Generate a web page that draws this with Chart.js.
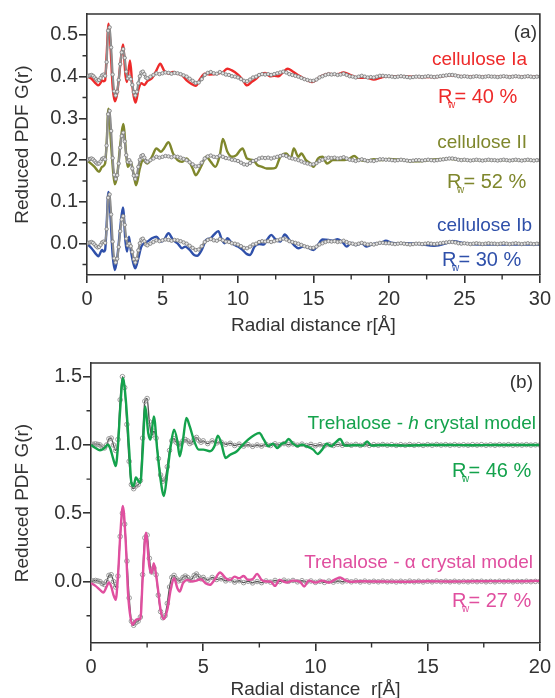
<!DOCTYPE html>
<html><head><meta charset="utf-8">
<script src="https://cdn.jsdelivr.net/npm/chart.js@4.4.1/dist/chart.umd.min.js"></script>
<style>
html,body{margin:0;padding:0;background:#fff;overflow:hidden;}
#wrap{position:relative;width:555px;height:698px;overflow:hidden;background:#fff;}
#ca{position:absolute;left:0;top:0;}
#cb{position:absolute;left:0;top:340px;}
</style></head><body>
<div id="wrap"><canvas id="ca" width="555" height="345"></canvas><canvas id="cb" width="555" height="370"></canvas></div>
<script>
// ---------- Panel (a): cellulose ----------
const aXTicks = [0,5,10,15,20,25,30];
const aXMinor = [2.5,7.5,12.5,17.5,22.5,27.5];
const aYTicks = [0,0.1,0.2,0.3,0.4,0.5];
const aYMinor = [-0.05,0.05,0.15,0.25,0.35,0.45];
const aOffsets = [0.4,0.2,0.0];   // vertical offsets of the experimental curve

const rExpA = [0,0.1,0.2,0.3,0.4,0.5,0.6,0.7,0.8,0.9,1,1.1,1.2,1.3,1.4,1.5,1.6,1.7,1.8,1.9,2,2.1,2.2,2.3,2.4,2.5,2.6,2.7,2.8,2.9,3,3.1,3.2,3.3,3.4,3.5,3.6,3.7,3.8,3.9,4,
4.2,4.4,4.6,4.8,5,5.2,5.4,5.6,5.8,6,6.2,6.4,6.6,6.8,7,7.2,7.4,7.6,7.8,8,8.2,8.4,8.6,8.8,9,9.2,9.4,9.6,9.8,10,
10.2,10.4,10.6,10.8,11,11.2,11.4,11.6,11.8,12,12.2,12.4,12.6,12.8,13,13.2,13.4,13.6,13.8,14,14.2,14.4,14.6,14.8,15,
15.2,15.4,15.6,15.8,16,16.2,16.4,16.6,16.8,17,17.2,17.4,17.6,17.8,18,18.2,18.4,18.6,18.8,19,19.2,19.4,19.6,19.8,20,
20.2,20.4,20.6,20.8,21,21.2,21.4,21.6,21.8,22,22.2,22.4,22.6,22.8,23,23.2,23.4,23.6,23.8,24,24.2,24.4,24.6,24.8,25,
25.2,25.4,25.6,25.8,26,26.2,26.4,26.6,26.8,27,27.2,27.4,27.6,27.8,28,28.2,28.4,28.6,28.8,29,29.2,29.4,29.6,29.8,30];
const gExpA = [0.000,0.002,0.003,0.004,0.002,-0.002,-0.006,-0.009,-0.008,-0.003,
0.003,0.005,0.002,0.035,0.110,0.118,0.070,0.005,-0.035,-0.045,
-0.036,-0.008,0.030,0.058,0.066,0.045,0.012,-0.004,0.000,-0.006,
-0.020,-0.037,-0.045,-0.036,-0.016,0.001,0.010,0.012,0.006,-0.002,
-0.004,
0.000,0.004,0.008,0.006,0.008,0.010,0.009,0.007,0.009,0.008,
0.006,0.003,0.000,-0.005,-0.010,-0.015,-0.014,-0.006,0.004,0.009,
0.011,0.008,0.007,0.011,0.008,0.005,0.004,0.001,0.000,-0.002,
-0.006,-0.010,-0.011,-0.007,-0.002,0.000,0.004,0.006,0.005,0.006,
0.004,0.006,0.008,0.010,0.012,0.010,0.006,0.004,0.002,0.000,
-0.003,-0.006,-0.008,-0.010,-0.010,-0.007,-0.002,0.001,0.004,0.006,
0.005,0.006,0.004,0.005,0.007,0.004,0.001,0.000,-0.002,0.000,
0.002,0.000,-0.002,-0.001,-0.002,0.000,0.002,0.002,0.001,0.001,
0.000,-0.001,0.000,0.001,0.000,-0.001,-0.002,-0.001,0.000,0.000,
-0.001,0.000,0.001,0.000,-0.001,0.000,0.001,0.002,0.003,0.004,
0.004,0.003,0.001,0.000,0.001,0.000,-0.001,0.000,0.001,0.000,
-0.001,0.000,0.001,0.000,0.000,-0.001,0.000,0.001,0.000,-0.001,
0.000,0.001,0.000,-0.001,0.000,0.001,0.000,-0.001,0.000,0.000];

const rIa = [0,0.3,0.6,0.75,0.9,1.0,1.1,1.2,1.3,1.43,1.55,1.7,1.85,2.0,2.2,2.38,2.55,2.65,2.85,3.0,3.1,3.22,3.4,3.6,3.8,4.0,4.3,4.6,4.85,5.1,5.4,5.7,6.0,6.3,6.6,6.9,7.2,7.5,7.8,8.1,8.5,9.0,9.3,9.6,10.0,10.3,10.6,10.9,11.2,11.5,11.8,12.1,12.4,12.7,13.0,13.3,13.6,14.0,14.5,14.9,15.2,15.5,16.0,16.5,17.0,17.5,18.0,18.5,19.0,19.5,20,21,22,23,24,25,26,27,28,29,30];
const gIa = [0.400,0.395,0.383,0.379,0.385,0.391,0.389,0.391,0.451,0.527,0.476,0.376,0.341,0.360,0.427,0.477,0.403,0.387,0.439,0.380,0.352,0.338,0.368,0.384,0.380,0.389,0.396,0.415,0.431,0.415,0.407,0.411,0.407,0.403,0.391,0.383,0.378,0.395,0.407,0.405,0.406,0.411,0.419,0.415,0.405,0.393,0.379,0.387,0.395,0.405,0.409,0.401,0.402,0.401,0.411,0.419,0.413,0.403,0.393,0.387,0.393,0.401,0.407,0.405,0.410,0.403,0.397,0.398,0.393,0.398,0.401,0.401,0.399,0.399,0.403,0.401,0.400,0.400,0.400,0.400,0.400];

const rII = [0,0.5,0.8,1.0,1.2,1.3,1.42,1.6,1.75,1.85,2.0,2.2,2.4,2.6,2.7,2.8,2.9,3.1,3.25,3.5,3.7,4.0,4.3,4.6,4.9,5.1,5.4,5.7,6.0,6.3,6.6,7.0,7.2,7.6,7.9,8.2,8.5,8.8,9.0,9.3,9.6,9.9,10.15,10.3,10.6,11.0,11.3,11.6,11.9,12.2,12.5,12.8,13.2,13.5,13.7,14.0,14.2,14.5,14.8,15.0,15.3,15.6,15.9,16.3,16.7,17.3,17.7,18.0,18.5,19.0,19.5,20.0,20.5,21.0,21.5,22.0,23,24,25,26,27,28,29,30];
const gII = [0.200,0.184,0.172,0.184,0.192,0.240,0.323,0.236,0.165,0.142,0.164,0.236,0.287,0.212,0.184,0.188,0.196,0.164,0.140,0.180,0.200,0.192,0.208,0.228,0.220,0.228,0.243,0.216,0.200,0.196,0.204,0.180,0.164,0.188,0.208,0.196,0.184,0.212,0.251,0.220,0.208,0.212,0.224,0.228,0.204,0.200,0.188,0.184,0.180,0.180,0.182,0.208,0.216,0.204,0.228,0.208,0.216,0.200,0.192,0.184,0.204,0.208,0.192,0.200,0.200,0.202,0.210,0.202,0.198,0.202,0.200,0.203,0.202,0.200,0.197,0.197,0.202,0.203,0.200,0.200,0.200,0.200,0.200,0.200];

const rIb = [0,0.3,0.6,0.75,1.0,1.1,1.2,1.3,1.42,1.55,1.7,1.85,2.0,2.2,2.38,2.55,2.65,2.78,2.9,3.1,3.2,3.4,3.6,3.8,4.0,4.3,4.6,4.9,5.1,5.4,5.7,6.0,6.3,6.5,6.8,7.1,7.3,7.6,7.9,8.2,8.4,8.7,8.9,9.1,9.3,9.6,10.0,10.3,10.6,10.8,11.1,11.4,11.7,12.0,12.2,12.5,12.8,13.1,13.4,13.7,14.0,14.3,14.6,15.0,15.3,15.6,16.0,16.3,16.6,16.9,17.2,17.5,17.8,18.2,18.5,18.8,19.2,19.5,19.8,20.2,21,22,23,24,24.3,25,26,27,28,29,30];
const gIb = [0.000,-0.011,-0.025,-0.030,-0.015,-0.019,-0.015,0.045,0.124,0.069,-0.027,-0.063,-0.035,0.037,0.087,0.005,-0.019,0.017,-0.015,-0.051,-0.059,-0.035,-0.007,0.001,0.005,0.013,0.017,0.005,0.009,0.025,0.009,0.001,-0.011,-0.007,-0.015,-0.027,-0.029,-0.015,0.009,0.013,0.021,0.030,0.013,0.001,0.013,0.001,-0.007,-0.015,-0.025,-0.027,-0.007,-0.001,-0.002,0.013,0.021,0.010,0.005,0.022,0.009,-0.003,-0.011,-0.007,-0.009,-0.015,-0.003,0.010,0.009,0.007,0.011,0.005,-0.007,0.002,-0.003,0.001,-0.007,-0.003,0.001,0.002,0.007,0.002,0.001,-0.001,-0.005,0.003,0.006,0.001,-0.002,-0.002,-0.002,-0.002,-0.002];

// ---------- Panel (b): trehalose ----------
const bXTicks = [0,5,10,15,20];
const bXMinor = [2.5,7.5,12.5,17.5];
const bYTicks = [0,0.5,1.0,1.5];
const bYMinor = [-0.25,0.25,0.75,1.25];
const bOffsets = [1.0,0.0];

const rExpB = [0,0.1,0.2,0.3,0.4,0.5,0.6,0.7,0.8,0.9,1,1.1,1.2,1.3,1.4,1.5,1.6,1.7,1.8,1.9,2,2.1,2.2,2.3,2.4,2.5,2.6,2.7,2.8,2.9,3,3.1,3.2,3.3,3.4,3.5,3.6,3.7,3.8,3.9,4,4.1,4.2,4.3,4.4,4.5,4.6,4.7,4.8,4.9,5,
5.2,5.4,5.6,5.8,6,6.2,6.4,6.6,6.8,7,7.2,7.4,7.6,7.8,8,8.2,8.4,8.6,8.8,9,9.2,9.4,9.6,9.8,10,10.2,10.4,10.6,10.8,11,
11.2,11.4,11.6,11.8,12,12.2,12.4,12.6,12.8,13,13.2,13.4,13.6,13.8,14,14.2,14.4,14.6,14.8,15,15.2,15.4,15.6,15.8,16,
16.2,16.4,16.6,16.8,17,17.2,17.4,17.6,17.8,18,18.2,18.4,18.6,18.8,19,19.2,19.4,19.6,19.8,20];
const gExpB = [0.000,0.005,0.008,0.004,0.000,-0.015,-0.022,0.000,0.045,0.050,
0.000,-0.040,0.040,0.330,0.500,0.420,0.150,-0.120,-0.290,-0.320,
-0.300,-0.290,-0.260,0.050,0.320,0.340,0.170,0.070,0.100,0.050,
-0.100,-0.220,-0.265,-0.250,-0.160,-0.040,0.030,0.045,0.020,0.005,
0.010,0.030,0.040,0.030,0.010,0.020,0.045,0.055,0.035,0.020,
0.030,
0.010,0.030,0.015,0.020,0.005,0.012,-0.004,0.006,-0.008,0.002,
-0.010,0.000,-0.008,0.004,-0.004,0.008,0.000,0.010,0.002,0.008,
-0.002,0.006,-0.004,0.004,-0.006,0.002,-0.006,0.003,-0.004,0.004,
-0.002,0.005,-0.002,0.004,-0.003,0.003,-0.003,0.002,-0.002,0.003,
-0.002,0.002,-0.003,0.002,-0.002,0.003,-0.002,0.002,-0.003,0.002,
-0.002,0.003,-0.001,0.002,-0.002,0.002,-0.002,0.001,-0.002,0.002,
-0.001,0.002,-0.002,0.001,-0.002,0.002,-0.001,0.002,-0.002,0.001,
-0.001,0.002,-0.001,0.001,0.000];

const rH = [0,0.2,0.4,0.6,0.75,0.85,1.0,1.1,1.2,1.3,1.42,1.55,1.7,1.8,1.9,2.0,2.1,2.2,2.3,2.42,2.55,2.65,2.8,2.95,3.1,3.25,3.4,3.55,3.7,3.85,3.95,4.1,4.25,4.4,4.6,4.8,5.0,5.3,5.5,5.65,5.8,6.0,6.2,6.5,6.7,7.0,7.3,7.5,7.7,7.9,8.1,8.3,8.5,8.65,8.8,9.0,9.2,9.4,9.6,9.9,10.1,10.3,10.5,10.7,10.9,11.1,11.3,11.5,11.8,12.1,12.3,12.5,13,14,15,16,17,18,19,20];
const gH = [1.000,0.978,0.961,0.978,1.002,0.978,0.893,0.845,0.990,1.258,1.488,1.331,0.966,0.723,0.699,0.762,0.738,0.723,0.942,1.282,1.088,1.039,1.209,0.966,0.747,0.626,0.796,0.990,1.112,1.027,0.917,1.039,1.197,1.136,1.027,0.966,0.966,0.954,0.990,1.068,1.015,0.905,0.929,0.954,0.990,1.039,1.075,1.087,1.039,0.990,1.010,0.978,1.010,1.015,1.044,1.010,0.990,1.002,0.990,0.966,0.934,0.966,1.010,0.990,1.019,1.044,0.995,0.995,1.000,0.995,1.025,0.995,1.000,0.995,1.000,1.000,0.998,1.000,1.000,1.000];

const rAl = [0,0.2,0.4,0.55,0.7,0.8,0.9,1.0,1.1,1.2,1.3,1.42,1.55,1.65,1.85,2.0,2.1,2.2,2.3,2.45,2.6,2.7,2.8,2.95,3.1,3.25,3.4,3.55,3.7,3.85,3.95,4.1,4.3,4.5,4.7,4.9,5.1,5.3,5.5,5.75,6.0,6.2,6.4,6.6,6.8,7.0,7.2,7.4,7.6,7.8,8.0,8.2,8.4,8.7,9.0,9.3,9.5,9.7,10.0,10.3,10.6,10.9,11.1,11.3,11.6,12,13,14,15,16,17,18,19,20];
const gAl = [-0.012,-0.032,-0.061,-0.080,-0.036,-0.007,-0.036,-0.097,-0.134,0.036,0.328,0.554,0.280,-0.085,-0.316,-0.280,-0.275,-0.275,0.012,0.357,0.109,0.061,0.134,-0.012,-0.207,-0.275,-0.207,-0.061,0.024,-0.049,-0.073,-0.012,0.012,0.000,0.007,0.017,-0.012,-0.024,0.012,0.066,0.024,0.012,0.036,0.024,0.041,0.012,0.017,0.056,0.012,0.000,0.000,-0.032,0.012,-0.007,0.007,0.000,-0.036,0.007,-0.007,0.007,-0.007,0.017,0.030,0.012,-0.002,0.002,0.000,-0.002,0.002,0.000,0.002,0.003,0.002,0.005];

// ---------- styling ----------
const FONT = '"Liberation Sans", Arial, Helvetica, sans-serif';
const AX = '#333333';
const TXT = '#333333';
const C_RED = '#ee2a2a', C_OLV = '#7f872c', C_BLU = '#2f50aa', C_GRN = '#14a24c', C_PNK = '#e04f9f';

const pts = (r, g, off) => r.map((x, i) => ({x: x, y: g[i] + (off || 0)}));

function modelSet(r, g, color, order) {
  return {data: pts(r, g), borderColor: color, borderWidth: 2.4, pointRadius: 0,
    cubicInterpolationMode: 'monotone', fill: false, order: order};
}
function expSetA(off) {
  return {data: pts(rExpA, gExpA, off), borderColor: '#8f8f8f', borderWidth: 2.2,
    pointRadius: 1.7, pointBackgroundColor: '#e4e4e4', pointBorderColor: '#808080', pointBorderWidth: 0.9,
    cubicInterpolationMode: 'monotone', fill: false, order: 0};
}
function expSetB(off) {
  return {data: pts(rExpB, gExpB, off), borderColor: '#555555', borderWidth: 1.4,
    pointRadius: 2.3, pointBackgroundColor: 'rgba(255,255,255,0)', pointBorderColor: '#9a9a9a', pointBorderWidth: 1,
    cubicInterpolationMode: 'monotone', fill: false, order: 1};
}

function frameMinor(minX, minY) {
  return {id: 'frameMinor', afterDraw(chart) {
    const {ctx, chartArea: ca, scales: {x, y}} = chart;
    ctx.save();
    ctx.strokeStyle = AX; ctx.lineWidth = 1.6;
    ctx.beginPath();
    ctx.moveTo(ca.left, ca.top); ctx.lineTo(ca.right, ca.top); ctx.lineTo(ca.right, ca.bottom);
    ctx.stroke();
    ctx.lineWidth = 1.4;
    ctx.beginPath();
    minX.forEach(v => { const p = x.getPixelForValue(v); ctx.moveTo(p, ca.bottom); ctx.lineTo(p, ca.bottom + 4.5); });
    minY.forEach(v => { const p = y.getPixelForValue(v); ctx.moveTo(ca.left, p); ctx.lineTo(ca.left - 4.5, p); });
    ctx.stroke();
    ctx.restore();
  }};
}

function drawPieces(ctx, pieces, xRight, y, color) {
  ctx.textBaseline = 'middle'; ctx.textAlign = 'left'; ctx.fillStyle = color;
  let w = 0;
  pieces.forEach(p => { ctx.font = p.f; w += ctx.measureText(p.t).width; });
  let x = xRight - w;
  pieces.forEach(p => { ctx.font = p.f; ctx.fillText(p.t, x, y); x += ctx.measureText(p.t).width; });
}
function drawRw(ctx, x0, y, val, color) {
  ctx.textBaseline = 'middle'; ctx.textAlign = 'left'; ctx.fillStyle = color;
  ctx.font = '20px ' + FONT; ctx.fillText('R', x0, y);
  const wR = ctx.measureText('R').width;
  ctx.font = '10px ' + FONT; ctx.fillText('w', x0 + wR - 4.5, y + 8);
  ctx.font = '20px ' + FONT; ctx.fillText('= ' + val + ' %', x0 + wR + 2, y);
}

const N = '19px ' + FONT, I = 'italic 19px ' + FONT;
const annotA = {id: 'annotA', afterDraw(chart) {
  const ctx = chart.ctx; ctx.save();
  drawPieces(ctx, [{t: '(a)', f: N}], 537, 33, TXT);
  drawPieces(ctx, [{t: 'cellulose Ia', f: N}], 527, 60, C_RED);
  drawRw(ctx, 438, 97, '40', C_RED);
  drawPieces(ctx, [{t: 'cellulose II', f: N}], 527, 143, C_OLV);
  drawRw(ctx, 447, 182, '52', C_OLV);
  drawPieces(ctx, [{t: 'cellulose Ib', f: N}], 532, 226, C_BLU);
  drawRw(ctx, 442, 260, '30', C_BLU);
  ctx.restore();
}};
const annotB = {id: 'annotB', afterDraw(chart) {
  const ctx = chart.ctx; ctx.save();
  drawPieces(ctx, [{t: '(b)', f: N}], 533, 43, TXT);
  drawPieces(ctx, [{t: 'Trehalose - ', f: N}, {t: 'h', f: I}, {t: ' crystal model', f: N}], 536, 84, C_GRN);
  drawRw(ctx, 452, 131, '46', C_GRN);
  drawPieces(ctx, [{t: 'Trehalose - ', f: N}, {t: '\u03B1', f: N}, {t: ' crystal model', f: N}], 533, 223, C_PNK);
  drawRw(ctx, 452, 261, '27', C_PNK);
  ctx.restore();
}};

function axes(o) {
  return {
    x: {type: 'linear', min: o.xMin, max: o.xMax,
      afterBuildTicks: s => { s.ticks = o.xTicks.map(v => ({value: v})); },
      afterFit: s => { s.height = o.xH; },
      ticks: {maxRotation: 0, autoSkip: false, padding: 4, color: TXT, font: {family: FONT, size: 20},
        callback: v => String(v)},
      grid: {display: true, drawOnChartArea: false, drawTicks: true, tickLength: 8, color: AX, lineWidth: 1.6},
      border: {display: true, color: AX, width: 1.6},
      title: {display: true, text: o.xTitle, color: TXT, font: {family: FONT, size: 19}, padding: {top: 0, bottom: o.xTitlePad}}},
    y: {type: 'linear', min: o.yMin, max: o.yMax,
      afterBuildTicks: s => { s.ticks = o.yTicks.map(v => ({value: v})); },
      afterFit: s => { s.width = o.yW; },
      ticks: {padding: 1, color: TXT, font: {family: FONT, size: 20}, callback: v => Number(v).toFixed(1)},
      grid: {display: true, drawOnChartArea: false, drawTicks: true, tickLength: 8, color: AX, lineWidth: 1.6},
      border: {display: true, color: AX, width: 1.6},
      title: {display: true, text: 'Reduced PDF G(r)', color: TXT, font: {family: FONT, size: 19}, padding: {top: 11.5, bottom: 0}}}
  };
}

const common = {responsive: false, animation: false, devicePixelRatio: 1,
  plugins: {legend: {display: false}, tooltip: {enabled: false}},
  elements: {line: {borderJoinStyle: 'round'}}};

new Chart(document.getElementById('ca'), {
  type: 'line',
  data: {datasets: [
    expSetA(aOffsets[0]), expSetA(aOffsets[1]), expSetA(aOffsets[2]),
    modelSet(rIa, gIa, C_RED, 1), modelSet(rII, gII, C_OLV, 1), modelSet(rIb, gIb, C_BLU, 1)
  ]},
  options: Object.assign({}, common, {
    layout: {padding: {left: 0, right: 13, top: 14, bottom: 0}},
    scales: axes({xMin: 0, xMax: 30, xTicks: aXTicks, yMin: -0.075, yMax: 0.55, yTicks: aYTicks,
      xH: 70, yW: 87, xTitle: 'Radial distance r[\u00C5]', xTitlePad: 7.6})
  }),
  plugins: [frameMinor(aXMinor, aYMinor), annotA]
});

new Chart(document.getElementById('cb'), {
  type: 'line',
  data: {datasets: [
    modelSet(rH, gH, C_GRN, 0), modelSet(rAl, gAl, C_PNK, 0),
    expSetB(bOffsets[0]), expSetB(bOffsets[1])
  ]},
  options: Object.assign({}, common, {
    layout: {padding: {left: 0, right: 12, top: 23, bottom: 0}},
    scales: axes({xMin: 0, xMax: 20, xTicks: bXTicks, yMin: -0.45, yMax: 1.6, yTicks: bYTicks,
      xH: 67, yW: 91, xTitle: 'Radial distance  r[\u00C5]', xTitlePad: 8.6})
  }),
  plugins: [frameMinor(bXMinor, bYMinor), annotB]
});
</script>
</body></html>
